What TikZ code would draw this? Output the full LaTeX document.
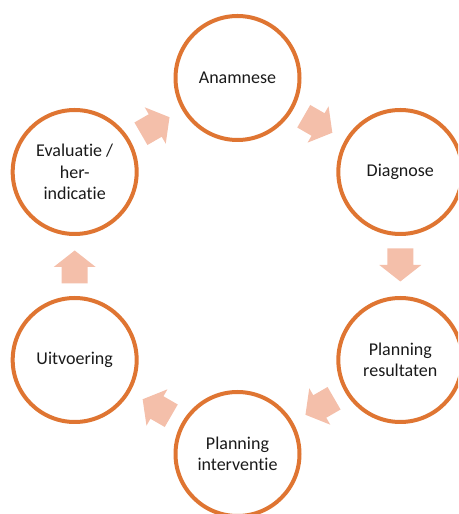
\documentclass[tikz,border=0pt]{standalone}
\usepackage{fontspec}
\setmainfont{Carlito}[Ligatures={NoCommon,NoRare,NoContextual}]
\usetikzlibrary{calc}
\definecolor{ringcol}{HTML}{DF7532}
\definecolor{arrowcol}{HTML}{F4BFAA}
\definecolor{txtcol}{HTML}{1A1A1A}
\tikzset{
  stage/.style={circle, draw=ringcol, line width=4pt, fill=white, minimum size=124pt,
    inner sep=0pt, align=center, font=\fontsize{18}{21.5}\selectfont, text=txtcol},
  blk/.pic={\fill[arrowcol] (-17.5,-13) -- (-1,-13) -- (-1,-21) -- (15.5,0) -- (-1,21) -- (-1,13) -- (-17.5,13) -- cycle;}
}
\begin{document}
\begin{tikzpicture}[x=1pt,y=1pt]
\useasboundingbox (0,0) rectangle (458,514);
\clip (0,0) rectangle (458,514);
\coordinate (ctr) at (237.5,248);
\node[stage] (ana) at ($(ctr)+(90:188)$) {Anamnese};
\node[stage] (dia) at ($(ctr)+(30:188)$) {Diagnose};
\node[stage] (pres) at ($(ctr)+(-30:188)$) {Planning\\resultaten};
\node[stage] (pint) at ($(ctr)+(-90:188)$) {Planning\\interventie};
\node[stage] (uit) at ($(ctr)+(-150:188)$) {Uitvoering};
\node[stage] (eva) at ($(ctr)+(150:188)$) {Evaluatie /\\her-\\indicatie};
\path ($(ana)!0.5!(dia)$) pic[rotate=-30] {blk};
\path ($(dia)!0.5!(pres)$) pic[rotate=-90] {blk};
\path ($(pres)!0.5!(pint)$) pic[rotate=-150] {blk};
\path ($(pint)!0.5!(uit)$) pic[rotate=150] {blk};
\path ($(uit)!0.5!(eva)$) pic[rotate=90] {blk};
\path ($(eva)!0.5!(ana)$) pic[rotate=30] {blk};
\end{tikzpicture}
\end{document}
